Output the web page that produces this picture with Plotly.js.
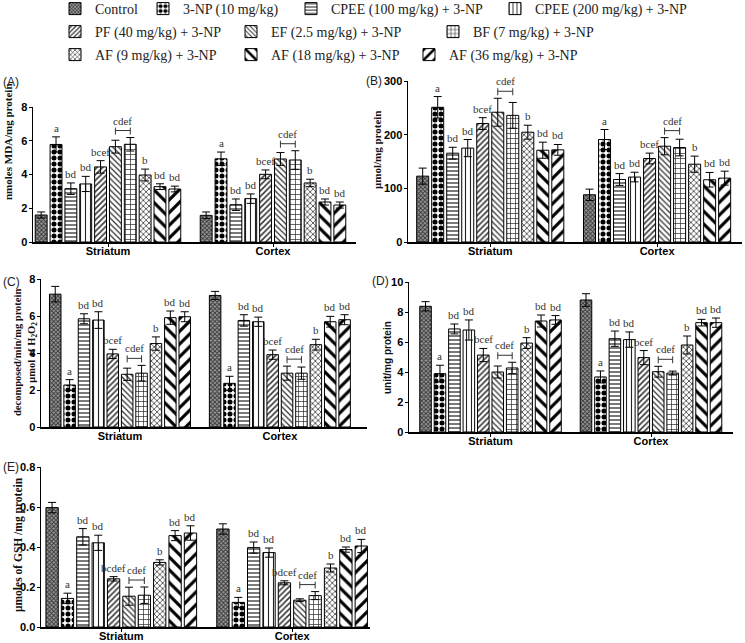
<!DOCTYPE html>
<html><head><meta charset="utf-8">
<script src="https://cdn.plot.ly/plotly-3.0.1.min.js"></script>
<style>body{margin:0;background:#fff}#chart{width:745px;height:643px}</style>
</head><body><div id="chart"></div>
<script>
const W = 745, H = 643;
const groups = ['Striatum', 'Cortex'];
const seriesNames = ['Control', '3-NP (10 mg/kg)', 'CPEE (100 mg/kg) + 3-NP', 'CPEE (200 mg/kg) + 3-NP',
  'PF (40 mg/kg) + 3-NP', 'EF (2.5 mg/kg) + 3-NP', 'BF (7 mg/kg) + 3-NP',
  'AF (9 mg/kg) + 3-NP', 'AF (18 mg/kg) + 3-NP', 'AF (36 mg/kg) + 3-NP'];

// (A) MDA, nmoles/mg protein
const mdaStriatum = [1.6, 5.78, 3.16, 3.44, 4.45, 5.65, 5.79, 3.97, 3.28, 3.14];
const mdaStriatumErr = [0.18, 0.45, 0.34, 0.45, 0.37, 0.38, 0.4, 0.35, 0.17, 0.17];
const mdaCortex = [1.58, 4.93, 2.21, 2.57, 4.01, 4.92, 4.86, 3.5, 2.37, 2.19];
const mdaCortexErr = [0.2, 0.4, 0.34, 0.28, 0.26, 0.38, 0.55, 0.22, 0.18, 0.18];
// (B) nitrite, umol/mg protein
const nitStriatum = [122.7, 251, 165.5, 175, 220.7, 241.8, 236, 204.6, 171, 171.7];
const nitStriatumErr = [15, 20, 11, 16, 11, 26, 24, 13, 15, 10];
const nitCortex = [88, 191, 116.5, 121, 155.6, 178.5, 176, 145, 116, 119];
const nitCortexErr = [10.5, 18.6, 11, 9, 10, 16, 15.5, 15, 13.6, 13];
// (C) catalase
const catStriatum = [7.18, 2.27, 5.85, 5.78, 3.95, 2.85, 2.91, 4.51, 5.91, 5.96];
const catStriatumErr = [0.42, 0.29, 0.27, 0.45, 0.25, 0.33, 0.42, 0.36, 0.36, 0.27];
const catCortex = [7.11, 2.36, 5.76, 5.69, 3.91, 2.91, 2.91, 4.45, 5.69, 5.8];
const catCortexErr = [0.22, 0.38, 0.31, 0.25, 0.25, 0.38, 0.33, 0.29, 0.29, 0.27];
// (D) SOD, unit/mg protein
const sodStriatum = [8.38, 3.89, 6.87, 6.8, 5.13, 4.0, 4.27, 5.93, 7.4, 7.47];
const sodStriatumErr = [0.31, 0.56, 0.33, 0.67, 0.44, 0.4, 0.38, 0.36, 0.4, 0.29];
const sodCortex = [8.8, 3.67, 6.22, 6.16, 4.96, 4.02, 3.93, 5.8, 7.29, 7.29];
const sodCortexErr = [0.42, 0.4, 0.51, 0.51, 0.47, 0.36, 0.13, 0.6, 0.22, 0.31];
// (E) GSH, umoles/mg protein
const gshStriatum = [0.597, 0.143, 0.451, 0.421, 0.241, 0.154, 0.159, 0.323, 0.457, 0.47];
const gshStriatumErr = [0.026, 0.026, 0.041, 0.038, 0.011, 0.045, 0.041, 0.013, 0.025, 0.036];
const gshCortex = [0.49, 0.123, 0.397, 0.372, 0.221, 0.134, 0.157, 0.295, 0.387, 0.405];
const gshCortexErr = [0.026, 0.025, 0.028, 0.023, 0.01, 0.007, 0.02, 0.02, 0.013, 0.033];

// significance letters
const lettersStd = ['', 'a', 'bd', 'bd', 'bcef', '', '', 'b', 'bd', 'bd'];
const lettersGshStriatum = ['', 'a', 'bd', 'bd', 'bcdef', '', '', 'b', 'bd', 'bd'];
const lettersGshCortex = ['', 'a', 'bd', 'bd', 'bdcef', '', '', 'b', 'bd', 'bd'];
const bracketLabel = 'cdef';
const bracketPair = [5, 6];

// styles
const patterns = [
  {shape: 'x', size: 3, solidity: 0.5, fgcolor: '#333', bgcolor: '#9a9a9a'},
  {shape: '.', size: 6, solidity: 0.55, fgcolor: '#000', bgcolor: '#fff'},
  {shape: '-', size: 4, solidity: 0.3, fgcolor: '#222', bgcolor: '#fff'},
  {shape: '|', size: 5, solidity: 0.22, fgcolor: '#222', bgcolor: '#fff'},
  {shape: '/', size: 4, solidity: 0.38, fgcolor: '#333', bgcolor: '#fff'},
  {shape: '\\', size: 4, solidity: 0.32, fgcolor: '#333', bgcolor: '#fff'},
  {shape: '+', size: 5, solidity: 0.25, fgcolor: '#222', bgcolor: '#fff'},
  {shape: 'x', size: 4, solidity: 0.35, fgcolor: '#333', bgcolor: '#fff'},
  {shape: '\\', size: 9, solidity: 0.35, fgcolor: '#000', bgcolor: '#fff'},
  {shape: '/', size: 9, solidity: 0.35, fgcolor: '#000', bgcolor: '#fff'}
];
const legendPx = [[95, 9], [183, 9], [331, 9], [535, 9], [95, 32], [271, 32], [473, 32], [95, 55], [271, 55], [449, 55]];

const SERIF = 'Liberation Serif, Times New Roman, serif';
const SANS = 'Liberation Sans, Arial, sans-serif';

const panels = [
  {id: '', label: '(A)', lab: [2, 82], px: [33, 356], py: [107, 242], xr: [-0.4545, 1.503], yr: [0, 8], dtick: 2, fmt: '',
   s: mdaStriatum, se: mdaStriatumErr, c: mdaCortex, ce: mdaCortexErr, ls: lettersStd, lc: lettersStd,
   title: 'nmoles MDA/mg protein', tpos: [8, 142], tfont: SERIF, tsize: 11},
  {id: '2', label: '(B)', lab: [365, 81], px: [408, 742], py: [81, 242], xr: [-0.493, 1.509], yr: [0, 300], dtick: 100, fmt: '',
   s: nitStriatum, se: nitStriatumErr, c: nitCortex, ce: nitCortexErr, ls: lettersStd, lc: lettersStd,
   title: 'μmol/mg protein', tpos: [377, 150], tfont: SERIF, tsize: 11},
  {id: '3', label: '(C)', lab: [2, 282], px: [41, 367], py: [279, 427], xr: [-0.494, 1.545], yr: [0, 8], dtick: 2, fmt: '',
   s: catStriatum, se: catStriatumErr, c: catCortex, ce: catCortexErr, ls: lettersStd, lc: lettersStd,
   title: 'decomposed/min/mg protein<br>μmol of H<sub>2</sub>O<sub>2</sub>', tpos: [25, 353], tfont: SERIF, tsize: 10.5},
  {id: '4', label: '(D)', lab: [371, 281], px: [409, 733], py: [282, 432], xr: [-0.508, 1.511], yr: [0, 10], dtick: 2, fmt: '',
   s: sodStriatum, se: sodStriatumErr, c: sodCortex, ce: sodCortexErr, ls: lettersStd, lc: lettersStd,
   title: 'unit/mg protein', tpos: [387, 358], tfont: SANS, tsize: 10},
  {id: '5', label: '(E)', lab: [2, 467], px: [41, 370], py: [467, 627], xr: [-0.47, 1.456], yr: [0, 0.8], dtick: 0.2, fmt: '.1f',
   s: gshStriatum, se: gshStriatumErr, c: gshCortex, ce: gshCortexErr, ls: lettersGshStriatum, lc: lettersGshCortex,
   title: 'μmoles of GSH /mg protein', tpos: [18, 545], tfont: SERIF, tsize: 11.5}
];

const BARGAP = 0.1, NS = seriesNames.length;
const GW = 1 - BARGAP;
function off(i) { return -GW / 2 + (i + 0.5) * GW / NS; }

const traces = [];
const annotations = [];
const shapes = [];
const layout = {
  width: W, height: H, margin: {l: 0, r: 0, t: 0, b: 0, autoexpand: false},
  paper_bgcolor: '#fff', plot_bgcolor: 'rgba(0,0,0,0)',
  barmode: 'group', bargap: BARGAP, bargroupgap: 0.2,
  font: {family: SANS, color: '#111'},
  showlegend: true
};

panels.forEach((p, pi) => {
  const xa = 'x' + p.id, ya = 'y' + p.id;
  for (let i = 0; i < NS; i++) {
    const legName = i === 0 ? 'legend' : 'legend' + (i + 1);
    traces.push({
      type: 'bar', name: seriesNames[i], x: [0, 1], y: [p.s[i], p.c[i]],
      xaxis: xa, yaxis: ya, legend: legName, showlegend: pi === 0,
      marker: {color: '#fff', line: {color: '#000', width: 1},
        pattern: Object.assign({fillmode: 'replace'}, patterns[i])},
      error_y: {type: 'data', array: [p.se[i], p.ce[i]], visible: true, color: '#000', thickness: 1, width: 4},
      hoverinfo: 'name+y'
    });
  }
  layout['xaxis' + p.id] = {
    domain: [p.px[0] / W, p.px[1] / W], anchor: ya, range: p.xr, type: 'linear',
    tickvals: [0, 1], ticktext: groups, ticks: 'outside', ticklen: 3, tickcolor: '#000', ticklabelstandoff: -5,
    showline: true, linecolor: '#000', linewidth: 1.5, showgrid: false, zeroline: false,
    tickfont: {family: SANS, size: 11, color: '#000', weight: 'bold'}, fixedrange: true
  };
  layout['yaxis' + p.id] = {
    domain: [1 - p.py[1] / H, 1 - p.py[0] / H], anchor: xa, range: p.yr, dtick: p.dtick, tickformat: p.fmt,
    ticks: 'outside', ticklen: 3, tickcolor: '#000', showline: true, linecolor: '#000', linewidth: 1.5,
    showgrid: false, zeroline: false, ticklabelstandoff: -1,
    tickfont: {family: SANS, size: 11, color: '#000', weight: 'bold'},
    fixedrange: true
  };
  // y-axis title
  annotations.push({xref: 'paper', yref: 'paper', x: p.tpos[0] / W, y: 1 - p.tpos[1] / H, xanchor: 'center', yanchor: 'middle',
    textangle: -90, text: '<b>' + p.title + '</b>', showarrow: false,
    font: {family: p.tfont, size: p.tsize, color: '#111'}});
  // panel label
  annotations.push({xref: 'paper', yref: 'paper', x: p.lab[0] / W, y: 1 - p.lab[1] / H, xanchor: 'left', yanchor: 'middle',
    text: p.label, showarrow: false, borderpad: 0, font: {family: SANS, size: 12, color: '#222'}});
  // letters
  [[p.s, p.se, p.ls], [p.c, p.ce, p.lc]].forEach((g, gi) => {
    for (let i = 0; i < NS; i++) {
      if (!g[2][i]) continue;
      annotations.push({xref: xa, yref: ya, x: gi + off(i), y: g[0][i] + g[1][i], yanchor: 'bottom', yshift: 1,
        text: g[2][i], showarrow: false, font: {family: SERIF, size: 11, color: '#333'}});
    }
    const a = bracketPair[0], b = bracketPair[1];
    const top = Math.max(g[0][a] + g[1][a], g[0][b] + g[1][b]);
    const xa0 = gi + off(a), xb0 = gi + off(b);
    const ln = {color: '#333', width: 1};
    shapes.push({type: 'line', xref: xa, yref: ya, ysizemode: 'pixel', yanchor: top, x0: xa0, x1: xb0, y0: 7, y1: 7, line: ln});
    shapes.push({type: 'line', xref: xa, yref: ya, ysizemode: 'pixel', yanchor: top, x0: xa0, x1: xa0, y0: 3, y1: 10, line: ln});
    shapes.push({type: 'line', xref: xa, yref: ya, ysizemode: 'pixel', yanchor: top, x0: xb0, x1: xb0, y0: 3, y1: 10, line: ln});
    annotations.push({xref: xa, yref: ya, x: (xa0 + xb0) / 2, y: top, yanchor: 'bottom', yshift: 9,
      text: bracketLabel, showarrow: false, font: {family: SERIF, size: 11, color: '#333'}});
  });
});

for (let i = 0; i < NS; i++) {
  const key = i === 0 ? 'legend' : 'legend' + (i + 1);
  layout[key] = {x: (legendPx[i][0] - 40) / W, y: 1 - legendPx[i][1] / H, xanchor: 'left', yanchor: 'middle',
    orientation: 'h', bgcolor: 'rgba(0,0,0,0)', borderwidth: 0,
    font: {family: SERIF, size: 14, color: '#222'}};
}
layout.annotations = annotations;
layout.shapes = shapes;

Plotly.newPlot('chart', traces, layout, {displayModeBar: false, staticPlot: true});
</script></body></html>
